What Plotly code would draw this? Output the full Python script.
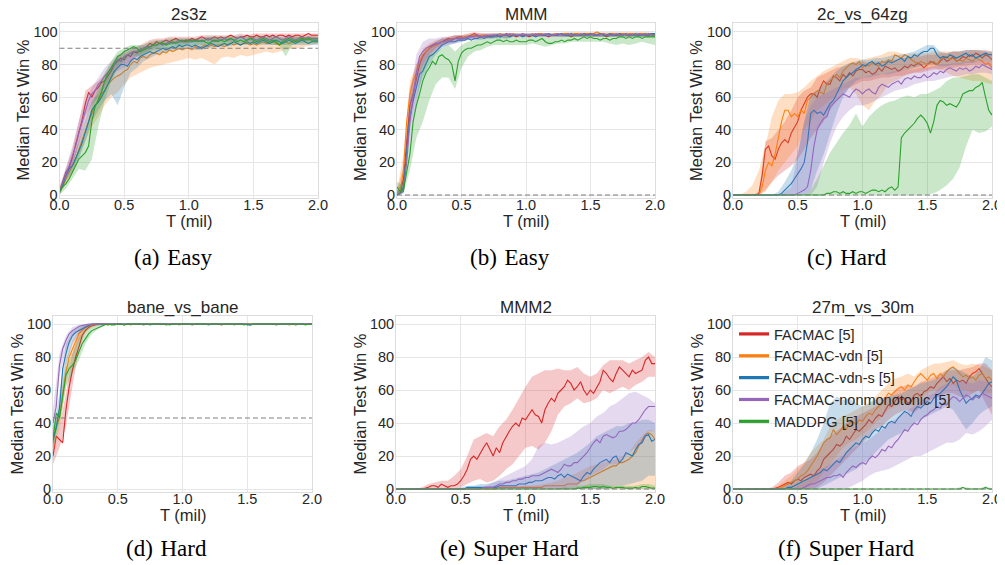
import numpy as np
import plotly.graph_objects as go

# ---------------- time grids (million steps) ----------------
T_MED = np.round(np.arange(81) * 0.025, 3).tolist()   # median curves
T_BAND = np.round(np.arange(41) * 0.05, 3).tolist()   # shaded bands

SERIES = ["FACMAC [5]", "FACMAC-vdn [5]", "FACMAC-vdn-s [5]",
          "FACMAC-nonmonotonic [5]", "MADDPG [5]"]
MAP_NAMES = ["2s3z", "MMM", "2c_vs_64zg", "bane_vs_bane", "MMM2", "27m_vs_30m"]
CAPTIONS = ["(a)\u2004Easy", "(b)\u2004Easy", "(c)\u2004Hard",
            "(d)\u2004Hard", "(e)\u2004Super Hard", "(f)\u2004Super Hard"]
DASH_LEVELS = [90, 0, 0, 43, 0, 0]
X_TICKS = [0.0, 0.5, 1.0, 1.5, 2.0]
X_TICK_TEXT = ["0.0", "0.5", "1.0", "1.5", "2.0"]
Y_TICKS = [0, 20, 40, 60, 80, 100]
X_LABEL = "T (mil)"
Y_LABEL = "Median Test Win %"

# ---------------- (a) 2s3z ----------------
A_RED = [2, 8, 14, 17, 23, 31, 38, 46, 56, 63,
         60, 64, 66, 69, 70, 73, 76, 80, 82, 84,
         83, 86, 85, 88, 87, 89, 90, 91, 93, 92,
         94, 93, 94, 95, 94, 95, 96, 95, 94, 95,
         95, 96, 95, 96, 97, 96, 95, 96, 97, 96,
         97, 96, 97, 98, 97, 96, 97, 97, 98, 97,
         97, 98, 97, 97, 98, 97, 98, 97, 98, 98,
         97, 98, 97, 98, 98, 97, 98, 99, 98, 98,
         98]
A_ORANGE = [2, 5, 10, 14, 17, 22, 28, 34, 40, 45,
            50, 55, 57, 62, 64, 68, 70, 72, 73, 74,
            76, 77, 80, 82, 81, 84, 85, 84, 86, 87,
            87, 86, 88, 87, 89, 88, 89, 90, 89, 90,
            90, 89, 91, 90, 91, 92, 91, 92, 91, 92,
            92, 91, 92, 93, 92, 93, 92, 93, 93, 92,
            93, 92, 93, 94, 93, 93, 94, 93, 92, 93,
            94, 93, 94, 95, 94, 95, 96, 95, 96, 96,
            96]
A_BLUE = [2, 6, 12, 16, 18, 22, 27, 32, 38, 45,
          52, 55, 57, 60, 64, 68, 72, 76, 78, 80,
          80, 79, 82, 84, 83, 85, 86, 87, 88, 87,
          88, 89, 90, 89, 90, 91, 90, 92, 91, 92,
          92, 91, 92, 91, 90, 91, 92, 93, 92, 91,
          92, 93, 92, 93, 94, 93, 92, 93, 94, 93,
          94, 93, 94, 95, 94, 93, 94, 95, 94, 93,
          94, 95, 94, 93, 94, 95, 94, 93, 94, 94,
          94]
A_PURPLE = [2, 8, 13, 18, 24, 30, 38, 45, 52, 58,
            62, 64, 68, 70, 73, 75, 78, 80, 83, 82,
            85, 86, 87, 88, 88, 89, 90, 91, 91, 92,
            92, 93, 92, 93, 94, 93, 94, 95, 94, 94,
            94, 95, 94, 95, 94, 95, 96, 95, 94, 95,
            95, 96, 95, 96, 95, 96, 97, 96, 95, 96,
            96, 95, 96, 97, 96, 95, 96, 97, 96, 95,
            96, 97, 96, 95, 96, 97, 96, 97, 96, 96,
            96]
A_GREEN = [2, 5, 7, 10, 14, 18, 22, 24, 26, 30,
           45, 54, 58, 63, 70, 75, 78, 82, 85, 86,
           88, 89, 90, 91, 90, 88, 89, 90, 91, 92,
           92, 93, 93, 92, 93, 94, 93, 94, 95, 94,
           95, 94, 95, 94, 95, 94, 93, 94, 95, 94,
           95, 94, 95, 96, 95, 94, 95, 94, 95, 96,
           95, 94, 95, 96, 95, 94, 95, 94, 92, 94,
           95, 96, 95, 94, 95, 96, 95, 96, 95, 95,
           95]
A_RED_LO = [0, 10, 18, 32, 48, 55, 60, 66, 72, 78, 80, 82, 85, 87, 89, 91, 92, 92, 93, 93,
            93, 94, 94, 95, 95, 95, 95, 96, 96, 96, 96, 96, 96, 96, 96, 96, 96, 96, 96, 96, 96]
A_RED_HI = [5, 17, 28, 45, 64, 67, 70, 74, 80, 85, 87, 89, 91, 93, 95, 96, 96, 97, 97, 97,
            97, 97, 98, 98, 98, 98, 98, 98, 99, 98, 99, 99, 99, 99, 99, 99, 99, 99, 99, 99, 99]
A_ORANGE_LO = [0, 7, 13, 24, 33, 42, 48, 55, 60, 63, 68, 72, 74, 76, 78, 79, 80, 81, 82, 83,
               84, 83, 84, 82, 80, 84, 85, 84, 86, 85, 86, 87, 88, 87, 88, 89, 90, 90, 91, 92, 93]
A_ORANGE_HI = [4, 13, 21, 33, 46, 56, 62, 68, 74, 78, 80, 83, 85, 87, 89, 90, 91, 91, 92, 92,
               92, 93, 93, 94, 94, 94, 95, 95, 95, 95, 95, 96, 96, 96, 96, 96, 97, 97, 97, 97, 97]
A_BLUE_LO = [0, 9, 14, 22, 33, 45, 52, 58, 62, 55, 66, 75, 78, 82, 84, 86, 87, 88, 89, 89,
             90, 89, 89, 90, 91, 91, 91, 92, 92, 92, 92, 92, 92, 92, 92, 92, 92, 92, 92, 92, 92]
A_BLUE_HI = [4, 15, 22, 33, 46, 58, 62, 70, 78, 84, 85, 88, 89, 90, 91, 92, 93, 94, 94, 94,
             95, 95, 95, 95, 96, 96, 96, 96, 96, 96, 96, 96, 96, 96, 96, 96, 96, 96, 96, 96, 96]
A_PURPLE_LO = [0, 10, 18, 32, 45, 56, 62, 68, 73, 76, 78, 82, 85, 87, 89, 90, 91, 92, 92, 92,
               93, 93, 93, 94, 94, 94, 94, 94, 95, 94, 94, 94, 94, 95, 94, 94, 95, 94, 94, 95, 94]
A_PURPLE_HI = [4, 17, 30, 46, 58, 66, 72, 78, 82, 86, 88, 90, 91, 92, 93, 94, 95, 95, 96, 96,
               96, 96, 97, 97, 97, 97, 97, 97, 98, 97, 97, 97, 97, 98, 97, 97, 98, 97, 97, 98, 97]
A_GREEN_LO = [0, 4, 10, 16, 15, 22, 42, 58, 70, 78, 82, 86, 85, 86, 88, 89, 90, 90, 91, 91,
              92, 92, 92, 92, 92, 92, 92, 93, 93, 93, 93, 93, 93, 92, 92, 85, 92, 93, 93, 93, 93]
A_GREEN_HI = [4, 10, 18, 28, 36, 55, 66, 75, 82, 88, 90, 92, 92, 92, 94, 95, 95, 96, 96, 96,
              96, 96, 96, 97, 97, 97, 97, 97, 97, 97, 97, 97, 97, 97, 97, 96, 97, 97, 97, 97, 97]

# ---------------- (b) MMM ----------------
B_RED = [0, 1, 10, 35, 55, 62, 72, 80, 85, 88,
         90, 92, 92, 93, 94, 95, 96, 95, 96, 97,
         97, 96, 97, 98, 99, 98, 97, 98, 98, 97,
         98, 98, 97, 98, 99, 98, 98, 97, 98, 98,
         98, 97, 98, 98, 99, 98, 98, 97, 98, 98,
         98, 99, 98, 98, 97, 98, 99, 98, 98, 98,
         99, 98, 98, 99, 98, 97, 98, 99, 98, 98,
         99, 98, 98, 99, 98, 98, 99, 98, 98, 99,
         98]
B_ORANGE = [0, 2, 15, 45, 62, 70, 75, 82, 86, 88,
            90, 91, 92, 93, 94, 94, 95, 96, 96, 96,
            96, 97, 97, 97, 98, 97, 98, 98, 97, 98,
            98, 98, 99, 98, 98, 98, 99, 98, 98, 99,
            98, 98, 99, 98, 99, 99, 98, 99, 98, 99,
            99, 98, 99, 99, 98, 99, 99, 98, 99, 99,
            99, 99, 100, 99, 99, 98, 99, 99, 98, 99,
            99, 98, 99, 99, 98, 99, 99, 98, 99, 99,
            98]
B_BLUE = [0, 1, 5, 25, 48, 58, 66, 74, 76, 80,
          85, 86, 88, 90, 92, 93, 94, 94, 94, 95,
          95, 95, 96, 95, 96, 96, 97, 96, 97, 97,
          97, 98, 97, 98, 98, 97, 98, 98, 98, 97,
          98, 98, 98, 97, 98, 98, 98, 99, 98, 98,
          98, 99, 98, 98, 99, 98, 98, 98, 99, 98,
          99, 98, 98, 99, 98, 98, 99, 98, 98, 99,
          98, 99, 98, 98, 99, 98, 98, 99, 98, 99,
          99]
B_PURPLE = [0, 1, 2, 20, 45, 60, 75, 85, 88, 90,
            91, 92, 93, 93, 94, 94, 95, 95, 96, 96,
            96, 96, 97, 97, 97, 98, 97, 97, 98, 98,
            98, 97, 98, 98, 98, 99, 98, 98, 98, 99,
            98, 98, 98, 99, 98, 98, 99, 98, 98, 98,
            99, 98, 98, 99, 98, 98, 98, 99, 98, 98,
            98, 99, 98, 98, 99, 98, 98, 98, 99, 98,
            98, 99, 98, 98, 98, 99, 98, 98, 99, 98,
            98]
B_GREEN = [5, 2, 3, 15, 25, 45, 55, 62, 70, 75,
           78, 82, 80, 85, 86, 84, 83, 80, 70, 82,
           87, 89, 90, 90, 91, 92, 92, 93, 94, 93,
           94, 95, 95, 94, 95, 94, 94, 95, 94, 94,
           94, 95, 95, 94, 95, 96, 94, 93, 93, 94,
           94, 95, 94, 95, 95, 96, 95, 96, 97, 96,
           97, 96, 96, 95, 96, 96, 95, 96, 96, 97,
           97, 96, 97, 96, 97, 97, 96, 97, 97, 97,
           97]
B_RED_LO = [0, 5, 45, 65, 80, 86, 90, 92, 94, 95, 95, 96, 97, 96, 96, 97, 97, 96, 97, 97,
            97, 97, 97, 97, 97, 97, 97, 97, 97, 97, 97, 97, 97, 97, 97, 97, 97, 97, 97, 97, 97]
B_RED_HI = [2, 18, 66, 80, 88, 92, 94, 96, 97, 98, 98, 99, 100, 99, 99, 99, 99, 99, 99, 99,
            99, 99, 99, 99, 99, 99, 99, 99, 99, 99, 99, 99, 99, 99, 99, 99, 99, 99, 99, 99, 99]
B_ORANGE_LO = [0, 8, 52, 68, 80, 86, 89, 92, 93, 94, 95, 96, 96, 96, 97, 97, 97, 97, 97, 98,
               98, 98, 98, 98, 98, 98, 98, 98, 98, 98, 98, 98, 98, 98, 98, 98, 98, 98, 98, 98, 97]
B_ORANGE_HI = [3, 25, 70, 80, 90, 93, 95, 96, 97, 98, 98, 99, 99, 99, 99, 99, 99, 99, 99, 99,
               99, 99, 99, 99, 99, 99, 100, 100, 100, 100, 100, 100, 100, 100, 100, 100, 100,
               100, 100, 100, 99]
B_BLUE_LO = [0, 2, 40, 60, 72, 80, 86, 90, 92, 93, 94, 95, 95, 95, 96, 96, 96, 96, 97, 97,
             97, 97, 97, 97, 97, 97, 97, 97, 97, 97, 97, 97, 97, 97, 97, 97, 97, 97, 97, 97, 97]
B_BLUE_HI = [2, 10, 58, 75, 86, 90, 94, 96, 96, 97, 97, 98, 98, 98, 98, 99, 99, 99, 99, 99,
             99, 99, 99, 99, 99, 99, 99, 99, 99, 99, 99, 99, 99, 99, 99, 99, 99, 99, 99, 99, 99]
B_PURPLE_LO = [0, 1, 35, 55, 76, 84, 88, 91, 92, 93, 94, 95, 95, 96, 96, 96, 97, 97, 97, 97,
               97, 97, 97, 97, 97, 97, 97, 97, 97, 97, 97, 97, 97, 97, 97, 97, 97, 97, 97, 97, 97]
B_PURPLE_HI = [2, 5, 60, 86, 94, 96, 96, 97, 97, 98, 98, 98, 99, 99, 99, 99, 99, 99, 99, 99,
               99, 99, 99, 99, 99, 99, 99, 99, 99, 99, 99, 99, 99, 99, 99, 99, 99, 99, 99, 99, 99]
B_GREEN_LO = [0, 1, 15, 35, 45, 58, 68, 72, 72, 65, 78, 85, 88, 89, 91, 92, 92, 92, 92, 92,
              92, 93, 92, 91, 92, 93, 93, 94, 94, 94, 94, 94, 94, 93, 92, 93, 92, 93, 94, 93, 92]
B_GREEN_HI = [8, 6, 35, 60, 80, 86, 88, 90, 92, 88, 92, 94, 95, 96, 96, 97, 97, 97, 97, 97,
              97, 97, 97, 97, 97, 97, 98, 98, 98, 98, 98, 98, 98, 98, 98, 98, 98, 98, 98, 98, 99]

# ---------------- (c) 2c_vs_64zg ----------------
C_RED = [0, 0, 0, 0, 0, 0, 0, 0, 1, 12,
         28, 30, 24, 22, 28, 32, 34, 32, 38, 42,
         45, 52, 56, 60, 62, 62, 60, 66, 70, 68,
         68, 73, 72, 70, 74, 72, 75, 73, 76, 77,
         77, 75, 76, 74, 75, 78, 76, 79, 78, 77,
         78, 76, 77, 79, 78, 80, 79, 81, 80, 78,
         80, 82, 81, 80, 82, 84, 82, 83, 85, 82,
         83, 85, 84, 86, 85, 87, 86, 84, 86, 85,
         83]
C_ORANGE = [0, 0, 0, 0, 0, 0, 0, 0, 0, 5,
            15, 20, 18, 25, 35, 45, 52, 52, 48, 50,
            48, 52, 50, 58, 60, 62, 64, 63, 62, 68,
            70, 72, 74, 72, 76, 78, 80, 81, 80, 82,
            78, 80, 79, 81, 80, 79, 82, 81, 83, 82,
            86, 85, 84, 86, 85, 83, 82, 80, 82, 81,
            80, 81, 82, 80, 83, 84, 85, 83, 84, 82,
            83, 82, 84, 83, 82, 84, 83, 82, 80, 81,
            78]
C_BLUE = [0, 0, 0, 0, 0, 0, 0, 0, 0, 0,
          0, 0, 0, 0, 0, 1, 3, 5, 7, 10,
          13, 16, 20, 32, 50, 52, 50, 51, 49, 53,
          56, 58, 62, 66, 70, 72, 74, 75, 77, 78,
          80, 79, 81, 82, 80, 81, 79, 80, 82, 81,
          82, 83, 84, 82, 85, 84, 86, 85, 87, 88,
          88, 90, 90, 86, 84, 85, 84, 86, 85, 84,
          85, 86, 87, 85, 86, 84, 85, 86, 87, 86,
          86]
C_PURPLE = [0, 0, 0, 0, 0, 0, 0, 0, 0, 0,
            0, 0, 0, 0, 0, 0, 0, 0, 0, 0,
            1, 2, 3, 5, 15, 30, 40, 44, 47, 48,
            54, 56, 58, 60, 62, 61, 60, 63, 65, 64,
            62, 64, 65, 63, 62, 66, 68, 67, 66, 68,
            69, 70, 68, 71, 72, 71, 73, 72, 72, 74,
            72, 73, 75, 74, 76, 75, 77, 78, 77, 76,
            78, 77, 78, 76, 77, 79, 78, 80, 79, 78,
            77]
C_GREEN = [0, 0, 0, 0, 0, 0, 0, 0, 0, 0,
           0, 0, 0, 0, 0, 0, 0, 0, 0, 0,
           0, 0, 0, 0, 0, 0, 0, 0, 0, 1,
           1, 2, 2, 1, 2, 1, 1, 2, 1, 2,
           2, 1, 2, 3, 3, 2, 3, 2, 4, 5,
           3, 5, 35, 38, 40, 42, 44, 47, 49, 47,
           44, 38, 45, 55, 58, 57, 55, 56, 55, 54,
           57, 62, 63, 64, 64, 66, 67, 69, 60, 52,
           49]
C_RED_LO = [0, 0, 0, 0, 0, 3, 8, 12, 15, 18, 22, 28, 35, 40, 45, 52, 58, 62, 66, 68,
            70, 70, 71, 72, 72, 73, 73, 74, 75, 75, 76, 77, 77, 78, 78, 79, 79, 80, 80, 80, 78]
C_RED_HI = [0, 0, 0, 0, 2, 33, 35, 40, 45, 52, 60, 64, 66, 72, 74, 76, 78, 79, 80, 81,
            82, 81, 82, 82, 83, 83, 84, 84, 85, 85, 86, 86, 87, 87, 88, 88, 89, 89, 89, 89, 88]
C_ORANGE_LO = [0, 0, 0, 0, 0, 2, 8, 15, 20, 25, 30, 40, 45, 52, 55, 58, 62, 65, 66, 62,
               55, 52, 58, 62, 68, 70, 72, 74, 75, 76, 77, 78, 77, 75, 73, 72, 71, 70, 70, 69, 68]
C_ORANGE_HI = [0, 0, 2, 6, 15, 30, 48, 58, 62, 62, 63, 66, 70, 73, 76, 78, 80, 82, 84, 84,
               83, 84, 85, 86, 88, 88, 87, 86, 87, 87, 87, 88, 88, 88, 88, 88, 88, 89, 88, 88, 87]
C_BLUE_LO = [0, 0, 0, 0, 0, 0, 0, 0, 0, 0, 0, 0, 3, 15, 25, 38, 50, 60, 66, 70,
             72, 72, 73, 74, 74, 75, 76, 77, 78, 79, 80, 80, 79, 79, 80, 80, 81, 81, 82, 82, 82]
C_BLUE_HI = [0, 0, 0, 0, 0, 0, 0, 2, 8, 15, 25, 45, 62, 64, 68, 72, 76, 79, 81, 82,
             83, 83, 84, 84, 85, 86, 86, 87, 88, 90, 92, 92, 88, 87, 88, 88, 89, 89, 89, 88, 88]
C_PURPLE_LO = [0, 0, 0, 0, 0, 0, 0, 0, 0, 0, 0, 0, 0, 5, 20, 32, 42, 48, 52, 55,
               55, 56, 58, 60, 62, 64, 65, 66, 68, 69, 70, 70, 71, 72, 73, 73, 74, 74, 75, 75, 74]
C_PURPLE_HI = [0, 0, 0, 0, 0, 0, 0, 0, 2, 5, 25, 45, 55, 60, 62, 64, 66, 68, 70, 72,
               72, 73, 74, 74, 75, 76, 76, 77, 77, 78, 78, 79, 80, 80, 81, 81, 82, 82, 82, 82, 82]
C_GREEN_LO = [0, 0, 0, 0, 0, 0, 0, 0, 0, 0, 0, 0, 0, 0, 0, 0, 0, 0, 0, 0,
              0, 0, 0, 0, 0, 0, 0, 0, 0, 0, 0, 1, 3, 6, 10, 17, 30, 40, 38, 39, 42]
C_GREEN_HI = [0, 0, 0, 0, 0, 0, 0, 0, 0, 0, 0, 0, 3, 10, 18, 26, 32, 38, 43, 50,
              42, 48, 52, 55, 57, 58, 60, 61, 60, 62, 62, 64, 66, 70, 72, 72, 73, 74, 74, 72, 70]

# ---------------- (d) bane_vs_bane ----------------
D_RED = [20, 32, 30, 28, 48, 62, 72, 80, 86, 93,
         96, 98, 99, 99.5, 100, 100, 100, 99.5, 100, 100,
         100, 100, 99.5, 100, 100, 100, 100, 100, 99.5, 100,
         100, 100, 100, 100, 100, 99.5, 100, 100, 100, 100,
         100, 100, 100, 99.5, 100, 100, 100, 100, 100, 100,
         100, 100, 99.5, 100, 100, 100, 100, 100, 100, 100,
         100, 99.5, 100, 100, 100, 100, 100, 100, 100, 99.5,
         100, 100, 100, 100, 100, 99.5, 100, 100, 100, 100,
         100]
D_ORANGE = [28, 38, 43, 57, 71, 80, 85, 90, 94, 96,
            98, 99, 99.5, 100, 100, 100, 100, 100, 100, 100,
            100, 100, 100, 100, 99.5, 100, 100, 100, 100, 100,
            100, 100, 100, 100, 100, 100, 100, 100, 100, 99.5,
            100, 100, 100, 100, 100, 100, 100, 100, 100, 100,
            100, 100, 100, 100, 100, 100, 99.5, 100, 100, 100,
            100, 100, 100, 100, 100, 100, 100, 100, 100, 100,
            100, 100, 100, 99.5, 100, 100, 100, 100, 100, 100,
            100]
D_BLUE = [30, 37, 49, 73, 82, 89, 93, 95, 96, 97,
          98, 99, 100, 100, 100, 100, 100, 100, 100, 100,
          100, 100, 100, 100, 100, 100, 100, 100, 100, 100,
          99.5, 100, 100, 100, 100, 100, 100, 100, 100, 100,
          100, 100, 100, 100, 100, 100, 100, 100, 99.5, 100,
          100, 100, 100, 100, 100, 100, 100, 100, 100, 100,
          99.5, 99.5, 100, 100, 100, 100, 100, 100, 100, 100,
          100, 100, 100, 100, 100, 100, 100, 100, 100, 100,
          100]
D_PURPLE = [40, 50, 75, 85, 90, 94, 96, 97.5, 98.5, 99,
            99.5, 100, 100, 100, 100, 100, 100, 100, 100, 100,
            100, 100, 100, 100, 100, 100, 100, 100, 100, 100,
            100, 100, 100, 100, 100, 100, 100, 100, 100, 100,
            100, 100, 100, 100, 100, 100, 100, 100, 100, 100,
            100, 100, 100, 100, 100, 100, 100, 100, 100, 100,
            100, 100, 100, 100, 100, 100, 100, 100, 100, 100,
            100, 100, 100, 100, 100, 100, 100, 100, 100, 100,
            100]
D_GREEN = [30, 46, 43, 55, 69, 73, 75, 78, 83, 88,
           91, 94, 96, 97, 98, 99, 99.5, 100, 99.5, 99.5,
           100, 100, 99.5, 100, 100, 100, 100, 100, 100, 100,
           100, 100, 100, 100, 100, 100, 99.5, 100, 100, 100,
           100, 100, 100, 100, 100, 100, 100, 100, 100, 100,
           100, 100, 100, 100, 100, 100, 100, 100, 100, 99.5,
           100, 100, 100, 100, 100, 100, 100, 100, 100, 100,
           100, 100, 100, 100, 100, 100, 100, 100, 99.5, 100,
           100]
D_RED_LO = [15, 25, 38, 62, 85, 95, 98, 99, 99.5, 99.5, 99.5, 99.5, 99.5, 99.5, 99.5, 99.5,
            99.5, 99.5, 99.5, 99.5, 99.5, 99.5, 99.5, 99.5, 99.5, 99.5, 99.5, 99.5, 99.5, 99.5,
            99.5, 99.5, 99.5, 99.5, 99.5, 99.5, 99.5, 99.5, 99.5, 99.5, 99.5]
D_RED_HI = [26, 38, 58, 82, 96, 99, 100, 100, 100, 100, 100, 100, 100, 100, 100, 100, 100,
            100, 100, 100, 100, 100, 100, 100, 100, 100, 100, 100, 100, 100, 100, 100, 100,
            100, 100, 100, 100, 100, 100, 100, 100]
D_ORANGE_LO = [22, 36, 62, 80, 90, 96, 98.5, 99.5, 99.5, 99.5, 99.5, 99.5, 99.5, 99.5, 99.5,
               99.5, 99.5, 99.5, 99.5, 99.5, 99.5, 99.5, 99.5, 99.5, 99.5, 99.5, 99.5, 99.5,
               99.5, 99.5, 99.5, 99.5, 99.5, 99.5, 99.5, 99.5, 99.5, 99.5, 99.5, 99.5, 99.5]
D_ORANGE_HI = [34, 50, 78, 90, 97, 99.5, 100, 100, 100, 100, 100, 100, 100, 100, 100, 100,
               100, 100, 100, 100, 100, 100, 100, 100, 100, 100, 100, 100, 100, 100, 100, 100,
               100, 100, 100, 100, 100, 100, 100, 100, 100]
D_BLUE_LO = [25, 42, 75, 88, 94, 97, 99.5, 99.5, 99.5, 99.5, 99.5, 99.5, 99.5, 99.5, 99.5,
             99.5, 99.5, 99.5, 99.5, 99.5, 99.5, 99.5, 99.5, 99.5, 99.5, 99.5, 99.5, 99.5,
             99.5, 99.5, 99.5, 99.5, 99.5, 99.5, 99.5, 99.5, 99.5, 99.5, 99.5, 99.5, 99.5]
D_BLUE_HI = [36, 58, 88, 96, 98, 99.5, 100, 100, 100, 100, 100, 100, 100, 100, 100, 100,
             100, 100, 100, 100, 100, 100, 100, 100, 100, 100, 100, 100, 100, 100, 100, 100,
             100, 100, 100, 100, 100, 100, 100, 100, 100]
D_PURPLE_LO = [35, 68, 84, 92, 96, 98.5, 99.5, 99.5, 99.5, 99.5, 99.5, 99.5, 99.5, 99.5,
               99.5, 99.5, 99.5, 99.5, 99.5, 99.5, 99.5, 99.5, 99.5, 99.5, 99.5, 99.5, 99.5,
               99.5, 99.5, 99.5, 99.5, 99.5, 99.5, 99.5, 99.5, 99.5, 99.5, 99.5, 99.5, 99.5, 99.5]
D_PURPLE_HI = [48, 82, 93, 98, 99.5, 100, 100, 100, 100, 100, 100, 100, 100, 100, 100, 100,
               100, 100, 100, 100, 100, 100, 100, 100, 100, 100, 100, 100, 100, 100, 100, 100,
               100, 100, 100, 100, 100, 100, 100, 100, 100]
D_GREEN_LO = [25, 38, 62, 70, 78, 88, 94, 97, 99, 99.5, 99.5, 99.5, 99.5, 99.5, 99.5, 99.5,
              99.5, 99.5, 99.5, 99.5, 99.5, 99.5, 99.5, 99.5, 99.5, 99.5, 99.5, 99.5, 99.5,
              99.5, 99.5, 99.5, 99.5, 99.5, 99.5, 99.5, 99.5, 99.5, 99.5, 99.5, 99.5]
D_GREEN_HI = [38, 50, 74, 82, 92, 97, 99, 100, 100, 100, 100, 100, 100, 100, 100, 100, 100,
              100, 100, 100, 100, 100, 100, 100, 100, 100, 100, 100, 100, 100, 100, 100, 100,
              100, 100, 100, 100, 100, 100, 100, 100]

# ---------------- (e) MMM2 ----------------
E_RED = [0, 0, 0, 0, 0, 0, 0, 0, 0, 0.5,
         1, 2, 2, 1, 3, 2, 1, 2, 2, 3,
         5, 8, 12, 18, 20, 18, 22, 25, 28, 24,
         20, 25, 22, 28, 32, 35, 38, 40, 38, 43,
         42, 45, 48, 45, 44, 40, 48, 52, 55, 53,
         58, 60, 62, 66, 64, 60, 62, 65, 60, 57,
         60, 58, 62, 65, 72, 70, 67, 65, 70, 74,
         72, 70, 68, 72, 70, 71, 72, 78, 80, 76,
         76]
E_ORANGE = [0, 0, 0, 0, 0, 0, 0, 0, 0, 0,
            0, 0, 0, 0, 0, 0, 0, 0, 0, 0,
            0, 0, 0, 0, 0, 0, 0, 0, 0, 0,
            0, 0, 1, 1, 1, 1, 1, 1, 1, 1,
            1, 1, 1, 1, 1, 1, 2, 2, 2, 2,
            2, 2, 2, 3, 3, 3, 3, 5, 5, 6,
            7, 8, 9, 10, 11, 12, 13, 14, 14, 16,
            16, 17, 18, 20, 22, 26, 30, 33, 34, 33,
            30]
E_BLUE = [0, 0, 0, 0, 0, 0, 0, 0, 0, 0,
          0, 0, 0, 0, 0, 0, 0, 0, 0, 0,
          0, 0, 1, 1, 1, 1, 1, 1, 1, 1,
          1, 1, 2, 2, 2, 2, 2, 2, 3, 3,
          3, 4, 4, 5, 5, 5, 6, 7, 7, 6,
          8, 9, 7, 9, 8, 7, 6, 5, 8, 10,
          9, 12, 14, 16, 17, 18, 16, 19, 20, 16,
          18, 22, 21, 20, 24, 27, 28, 32, 33, 29,
          30]
E_PURPLE = [0, 0, 0, 0, 0, 0, 0, 0, 0, 0,
            0, 0, 0, 0, 0, 0, 0, 0, 0, 0,
            0, 0, 0, 0, 0, 0, 0, 1, 1, 1,
            1, 2, 3, 3, 4, 4, 5, 5, 6, 6,
            7, 7, 8, 8, 8, 9, 10, 11, 12, 11,
            10, 12, 15, 14, 14, 16, 16, 18, 20, 22,
            25, 28, 30, 28, 32, 33, 32, 31, 32, 35,
            35, 36, 38, 40, 40, 42, 45, 48, 50, 50,
            50]
E_GREEN = [0, 0, 0, 0, 0, 0, 0, 0, 0, 0,
           0, 0, 0, 0, 0, 0, 0, 0, 0, 0,
           0, 0, 0, 0, 0, 0, 0, 0, 0, 0,
           0, 0, 0, 0, 0, 0, 0, 0, 0, 0,
           0, 0, 0, 0, 0, 0, 0, 0, 0, 0,
           0, 0, 0, 0, 0, 0, 0.5, 0.5, 1, 1,
           1, 1.5, 1.5, 1, 1.5, 1, 1, 0.5, 1, 1,
           1, 0.5, 0.5, 0.5, 1, 0.5, 1.5, 1.5, 1, 0.5,
           0.5]
E_RED_LO = [0, 0, 0, 0, 0, 0, 0, 0, 0, 0, 1, 3, 5, 6, 4, 5, 8, 12, 15, 20,
            25, 26, 24, 28, 35, 45, 50, 52, 55, 52, 53, 55, 60, 58, 60, 62, 60, 63, 65, 68, 68]
E_RED_HI = [0, 0, 0, 0, 1, 3, 4, 5, 5, 8, 12, 20, 30, 32, 34, 32, 38, 42, 48, 55,
            62, 68, 70, 72, 72, 73, 72, 72, 74, 70, 68, 70, 75, 78, 78, 78, 76, 78, 80, 83, 80]
E_ORANGE_LO = [0, 0, 0, 0, 0, 0, 0, 0, 0, 0, 0, 0, 0, 0, 0, 0, 0, 0, 0, 0,
               0, 0, 0, 0, 0, 0, 0, 0, 0, 0, 0, 0, 0, 0, 0, 0, 0, 0, 0, 0, 0]
E_ORANGE_HI = [0, 0, 0, 0, 0, 0, 0, 0, 0, 0, 0, 0, 0, 0, 0, 1, 1.5, 1.5, 1.5, 1.5,
               2, 2, 2.5, 3, 4, 5, 7, 8, 10, 12, 14, 15, 16, 17, 18, 20, 22, 28, 32, 36, 35]
E_BLUE_LO = [0, 0, 0, 0, 0, 0, 0, 0, 0, 0, 0, 0, 0, 0, 0, 0, 0, 0, 0, 0,
             0, 0, 0, 0, 0, 0, 0, 0, 0, 0, 0, 0, 0, 1, 2, 2, 3, 4, 5, 8, 8]
E_BLUE_HI = [0, 0, 0, 0, 0, 0, 0, 0, 0, 0, 1, 2, 2, 3, 3, 4, 5, 5, 6, 7,
             8, 9, 10, 12, 14, 16, 18, 20, 22, 25, 28, 32, 34, 36, 38, 38, 40, 40, 42, 42, 40]
E_PURPLE_LO = [0, 0, 0, 0, 0, 0, 0, 0, 0, 0, 0, 0, 0, 0, 0, 0, 0, 0, 0, 0,
               0, 0, 0, 0, 0, 0, 0, 1, 2, 5, 8, 10, 12, 15, 15, 18, 22, 25, 28, 35, 35]
E_PURPLE_HI = [0, 0, 0, 0, 0, 0, 0, 0, 0, 0, 0, 0, 0, 0, 2, 4, 6, 8, 10, 12,
               14, 18, 26, 28, 27, 28, 30, 32, 35, 38, 40, 44, 46, 50, 52, 55, 58, 59, 57, 55, 52]
E_GREEN_LO = [0, 0, 0, 0, 0, 0, 0, 0, 0, 0, 0, 0, 0, 0, 0, 0, 0, 0, 0, 0,
              0, 0, 0, 0, 0, 0, 0, 0, 0, 0, 0, 0, 0, 0, 0, 0, 0, 0, 0, 0, 0]
E_GREEN_HI = [0, 0, 0, 0, 0, 0, 0, 0, 0, 0, 0, 0, 0, 0, 0, 0, 0, 0, 0, 0,
              0, 0, 0, 0, 0, 0, 1, 1, 2, 2, 3, 3, 3, 2, 2, 2, 2, 2, 3, 3, 2]

# ---------------- (f) 27m_vs_30m ----------------
F_RED = [0, 0, 0, 0, 0, 0, 0, 0, 0, 0,
         0, 0, 0, 0.5, 1, 2, 3, 4, 3, 5,
         6, 5, 7, 8, 9, 8, 11, 13, 18, 20,
         22, 24, 27, 26, 28, 32, 30, 33, 36, 35,
         37, 39, 42, 40, 43, 45, 44, 48, 51, 50,
         53, 56, 54, 55, 52, 53, 57, 58, 56, 59,
         60, 62, 61, 64, 66, 68, 65, 67, 64, 66,
         65, 66, 64, 68, 70, 71, 73, 70, 67, 64,
         62]
F_ORANGE = [0, 0, 0, 0, 0, 0, 0, 0, 0, 0,
            0, 0, 0, 0, 0, 1, 2, 3, 4, 5,
            6, 8, 9, 11, 14, 17, 20, 24, 28, 30,
            31, 36, 33, 35, 38, 36, 40, 41, 39, 42,
            41, 44, 46, 45, 48, 50, 52, 55, 58, 57,
            59, 61, 62, 60, 63, 62, 65, 68, 70, 68,
            66, 69, 70, 67, 70, 68, 71, 73, 74, 72,
            70, 68, 69, 67, 68, 66, 69, 70, 67, 68,
            66]
F_BLUE = [0, 0, 0, 0, 0, 0, 0, 0, 0, 0,
          0, 0, 0, 0, 0, 0, 0, 1, 1, 2,
          3, 4, 5, 6, 7, 8, 9, 10, 12, 11,
          13, 15, 17, 16, 19, 22, 24, 26, 28, 27,
          30, 32, 31, 34, 36, 35, 38, 37, 40, 41,
          40, 43, 45, 47, 46, 44, 48, 50, 49, 51,
          53, 52, 55, 57, 58, 60, 62, 65, 68, 66,
          60, 56, 52, 54, 55, 57, 56, 58, 61, 64,
          65]
F_PURPLE = [0, 0, 0, 0, 0, 0, 0, 0, 0, 0,
            0, 0, 0, 0, 0, 0, 0, 0, 0, 0,
            0, 0, 1, 2, 3, 3, 4, 5, 6, 7,
            7, 8, 8, 9, 7, 10, 12, 14, 13, 15,
            16, 15, 18, 20, 19, 21, 24, 23, 26, 25,
            28, 30, 33, 36, 35, 38, 40, 39, 42, 44,
            45, 47, 48, 50, 49, 52, 51, 54, 56, 55,
            53, 55, 57, 56, 54, 56, 55, 58, 57, 56,
            55]
F_GREEN = [0, 0, 0, 0, 0, 0, 0, 0, 0, 0,
           0, 0, 0, 0, 0, 0, 0, 0, 0, 0,
           0, 0, 0, 0, 0, 0, 0, 0, 0, 0,
           0, 0, 0, 0, 0, 0, 0, 0, 0, 0,
           0, 0, 0, 0, 0, 0, 0, 0, 0, 0,
           0, 0, 0, 0, 0, 0, 0, 0, 0, 0,
           0, 0, 0, 0, 0, 0, 0, 0, 0, 0,
           0, 1, 0, 0, 0, 0, 0, 0, 1, 0,
           0]
F_RED_LO = [0, 0, 0, 0, 0, 0, 0, 0, 0, 0, 0, 0, 0, 1, 4, 8, 12, 16, 20, 24,
            28, 32, 36, 38, 42, 45, 47, 48, 46, 50, 53, 55, 56, 58, 58, 56, 55, 58, 60, 52, 45]
F_RED_HI = [0, 0, 0, 0, 0, 0, 1, 4, 8, 10, 14, 16, 18, 22, 28, 32, 35, 38, 42, 44,
            46, 48, 50, 53, 56, 60, 62, 63, 62, 65, 66, 68, 70, 72, 72, 72, 73, 74, 76, 76, 72]
F_ORANGE_LO = [0, 0, 0, 0, 0, 0, 0, 0, 0, 0, 0, 0, 2, 5, 10, 15, 20, 25, 28, 30,
               33, 36, 40, 44, 48, 50, 52, 52, 50, 55, 58, 60, 60, 62, 63, 60, 60, 58, 60, 58, 58]
F_ORANGE_HI = [0, 0, 0, 0, 0, 0, 0, 2, 5, 8, 12, 16, 22, 26, 30, 38, 42, 44, 46, 48,
               50, 52, 56, 60, 64, 67, 68, 70, 68, 72, 74, 76, 76, 77, 78, 76, 75, 76, 75, 74, 72]
F_BLUE_LO = [0, 0, 0, 0, 0, 0, 0, 0, 0, 0, 0, 0, 0, 0, 2, 4, 6, 8, 10, 12,
             15, 18, 22, 26, 30, 32, 34, 36, 40, 42, 44, 46, 48, 50, 48, 42, 36, 40, 45, 48, 50]
F_BLUE_HI = [0, 0, 0, 0, 0, 0, 0, 0, 2, 5, 10, 15, 22, 30, 40, 52, 56, 54, 55, 52,
             50, 52, 54, 55, 56, 57, 58, 60, 62, 64, 65, 66, 68, 72, 74, 72, 70, 68, 72, 80, 78]
F_PURPLE_LO = [0, 0, 0, 0, 0, 0, 0, 0, 0, 0, 0, 0, 0, 0, 0, 0, 0, 0, 1, 3,
               5, 8, 10, 11, 12, 14, 16, 18, 20, 20, 22, 24, 26, 28, 28, 30, 34, 33, 35, 38, 42]
F_PURPLE_HI = [0, 0, 0, 0, 0, 0, 0, 0, 0, 0, 2, 4, 7, 10, 13, 15, 18, 20, 24, 26,
               28, 30, 33, 36, 40, 42, 45, 48, 50, 53, 56, 58, 62, 64, 64, 65, 65, 64, 66, 65, 62]
F_GREEN_LO = [0, 0, 0, 0, 0, 0, 0, 0, 0, 0, 0, 0, 0, 0, 0, 0, 0, 0, 0, 0,
              0, 0, 0, 0, 0, 0, 0, 0, 0, 0, 0, 0, 0, 0, 0, 0, 0, 0, 0, 0, 0]
F_GREEN_HI = [0, 0, 0, 0, 0, 0, 0, 0, 0, 0, 0, 0, 0, 0, 0, 0, 0, 0, 0, 0,
              0, 0, 0, 0, 0, 0, 0, 0, 0, 0, 0, 0, 0, 0, 0, 1, 1, 0.5, 0.5, 1.5, 0.5]

# ---------------- assemble table ----------------
PANELS = [
    [(A_RED, A_RED_LO, A_RED_HI), (A_ORANGE, A_ORANGE_LO, A_ORANGE_HI),
     (A_BLUE, A_BLUE_LO, A_BLUE_HI), (A_PURPLE, A_PURPLE_LO, A_PURPLE_HI),
     (A_GREEN, A_GREEN_LO, A_GREEN_HI)],
    [(B_RED, B_RED_LO, B_RED_HI), (B_ORANGE, B_ORANGE_LO, B_ORANGE_HI),
     (B_BLUE, B_BLUE_LO, B_BLUE_HI), (B_PURPLE, B_PURPLE_LO, B_PURPLE_HI),
     (B_GREEN, B_GREEN_LO, B_GREEN_HI)],
    [(C_RED, C_RED_LO, C_RED_HI), (C_ORANGE, C_ORANGE_LO, C_ORANGE_HI),
     (C_BLUE, C_BLUE_LO, C_BLUE_HI), (C_PURPLE, C_PURPLE_LO, C_PURPLE_HI),
     (C_GREEN, C_GREEN_LO, C_GREEN_HI)],
    [(D_RED, D_RED_LO, D_RED_HI), (D_ORANGE, D_ORANGE_LO, D_ORANGE_HI),
     (D_BLUE, D_BLUE_LO, D_BLUE_HI), (D_PURPLE, D_PURPLE_LO, D_PURPLE_HI),
     (D_GREEN, D_GREEN_LO, D_GREEN_HI)],
    [(E_RED, E_RED_LO, E_RED_HI), (E_ORANGE, E_ORANGE_LO, E_ORANGE_HI),
     (E_BLUE, E_BLUE_LO, E_BLUE_HI), (E_PURPLE, E_PURPLE_LO, E_PURPLE_HI),
     (E_GREEN, E_GREEN_LO, E_GREEN_HI)],
    [(F_RED, F_RED_LO, F_RED_HI), (F_ORANGE, F_ORANGE_LO, F_ORANGE_HI),
     (F_BLUE, F_BLUE_LO, F_BLUE_HI), (F_PURPLE, F_PURPLE_LO, F_PURPLE_HI),
     (F_GREEN, F_GREEN_LO, F_GREEN_HI)],
]
for p, panel in enumerate(PANELS):
    for s, (m, lo, hi) in enumerate(panel):
        assert len(m) == len(T_MED), (p, s, "med", len(m))
        assert len(lo) == len(T_BAND), (p, s, "lo", len(lo))
        assert len(hi) == len(T_BAND), (p, s, "hi", len(hi))

# ---------------- styling / geometry ----------------
PAGE_MARGIN = 8                      # default <body> margin of the html page
W, H = 1005 - PAGE_MARGIN, 565 - PAGE_MARGIN


def px(x):   # page pixel -> paper fraction (x)
    return (x - PAGE_MARGIN) / W


def py(y):   # page pixel -> paper fraction (y)
    return 1 - (y - PAGE_MARGIN) / H


COLORS = ["#d62728", "#ff7f0e", "#1f77b4", "#9467bd", "#2ca02c"]
FILLS = ["rgba(214,39,40,0.25)", "rgba(255,127,14,0.25)", "rgba(31,119,180,0.25)",
         "rgba(148,103,189,0.25)", "rgba(44,160,44,0.25)"]
# plot boxes in page pixels: left, right, top, bottom
BOXES = [(59.5, 318, 23, 198), (397, 655, 23, 198), (733, 992, 23, 198),
         (53, 312, 316, 492), (396, 655, 316, 492), (733, 992, 316, 492)]
Y_RANGES = [[-1.84, 105.5]] * 3 + [[-1.82, 104.85]] * 3
SANS = "Liberation Sans, Arial, Helvetica, sans-serif"
SERIF = "Liberation Serif, Times New Roman, serif"
TXT = "#262626"

fig = go.Figure()
band_x = T_BAND + T_BAND[::-1]
for p, panel in enumerate(PANELS):
    xa = "x" if p == 0 else f"x{p + 1}"
    ya = "y" if p == 0 else f"y{p + 1}"
    for s, (m, lo, hi) in enumerate(panel):
        fig.add_trace(go.Scatter(
            x=band_x, y=list(hi) + list(lo)[::-1], xaxis=xa, yaxis=ya,
            fill="toself", fillcolor=FILLS[s], line=dict(width=0),
            mode="lines", hoverinfo="skip", showlegend=False))
        fig.add_trace(go.Scatter(
            x=T_MED, y=m, xaxis=xa, yaxis=ya, mode="lines",
            line=dict(color=COLORS[s], width=1.1), name=SERIES[s],
            showlegend=False))

# legend entries (thicker line samples), attached to panel (f)
for s in range(5):
    fig.add_trace(go.Scatter(
        x=[None], y=[None], xaxis="x6", yaxis="y6", mode="lines",
        line=dict(color=COLORS[s], width=3.2), name=SERIES[s], showlegend=True))

layout = dict(
    width=W, height=H, margin=dict(l=0, r=0, t=0, b=0),
    paper_bgcolor="white", plot_bgcolor="white",
    font=dict(family=SANS, color=TXT, size=14),
    showlegend=True,
    legend=dict(x=px(734), y=py(318), xanchor="left", yanchor="top",
                bgcolor="rgba(0,0,0,0)", borderwidth=0,
                font=dict(family=SANS, size=14.5, color=TXT),
                tracegroupgap=0, itemwidth=30),
)
annotations = []
shapes = []
for p, (l, r, t, b) in enumerate(BOXES):
    xk = "xaxis" if p == 0 else f"xaxis{p + 1}"
    yk = "yaxis" if p == 0 else f"yaxis{p + 1}"
    xid = "x" if p == 0 else f"x{p + 1}"
    yid = "y" if p == 0 else f"y{p + 1}"
    layout[xk] = dict(
        domain=[px(l), px(r)], anchor=yid, range=[0, 2],
        tickvals=X_TICKS, ticktext=X_TICK_TEXT, ticks="",
        tickfont=dict(size=14.5, color=TXT, family=SANS),
        ticklabelstandoff=-6, ticklabeloverflow="allow",
        showgrid=True, gridcolor="#e6e6e6", gridwidth=1, zeroline=False,
        showline=True, linecolor="#dcdcdc", linewidth=1, mirror=True,
        automargin=False, fixedrange=True)
    layout[yk] = dict(
        domain=[py(b), py(t)], anchor=xid, range=Y_RANGES[p],
        tickvals=Y_TICKS, ticks="",
        tickfont=dict(size=14.5, color=TXT, family=SANS),
        ticklabelstandoff=-2, ticklabeloverflow="allow",
        showgrid=True, gridcolor="#e6e6e6", gridwidth=1, zeroline=False,
        showline=True, linecolor="#dcdcdc", linewidth=1, mirror=True,
        automargin=False, fixedrange=True)
    # axis titles
    annotations.append(dict(
        text=X_LABEL, xref="paper", yref="paper", x=px((l + r) / 2), y=py(b + 23),
        xanchor="center", yanchor="middle", showarrow=False,
        font=dict(size=16.5, color=TXT, family=SANS)))
    annotations.append(dict(
        text=Y_LABEL, xref="paper", yref="paper", x=px(l - 36.5), y=py((t + b) / 2),
        xanchor="center", yanchor="middle", textangle=-90, showarrow=False,
        font=dict(size=16.5, color=TXT, family=SANS)))
    # subplot title
    annotations.append(dict(
        text=MAP_NAMES[p], xref="paper", yref="paper",
        x=px((l + r) / 2), y=py(t), xanchor="center", yanchor="bottom",
        yshift=-3, showarrow=False, font=dict(size=17, color=TXT, family=SANS)))
    # caption under the subfigure
    cap_y = 257 if p < 3 else 548
    annotations.append(dict(
        text=CAPTIONS[p], xref="paper", yref="paper",
        x=px((l + r) / 2 - 16), y=py(cap_y), xanchor="center", yanchor="middle",
        showarrow=False, font=dict(size=23, color="black", family=SERIF)))
    # dashed reference level
    shapes.append(dict(
        type="line", xref=f"{xid} domain", yref=yid, x0=0, x1=1,
        y0=DASH_LEVELS[p], y1=DASH_LEVELS[p],
        line=dict(color="#7f7f7f", width=1.1, dash="5px,3px"), layer="above"))
layout["annotations"] = annotations
layout["shapes"] = shapes
fig.update_layout(**layout)

fig.write_html("out.html", include_plotlyjs=True, full_html=True,
               config={"displayModeBar": False, "staticPlot": True})
